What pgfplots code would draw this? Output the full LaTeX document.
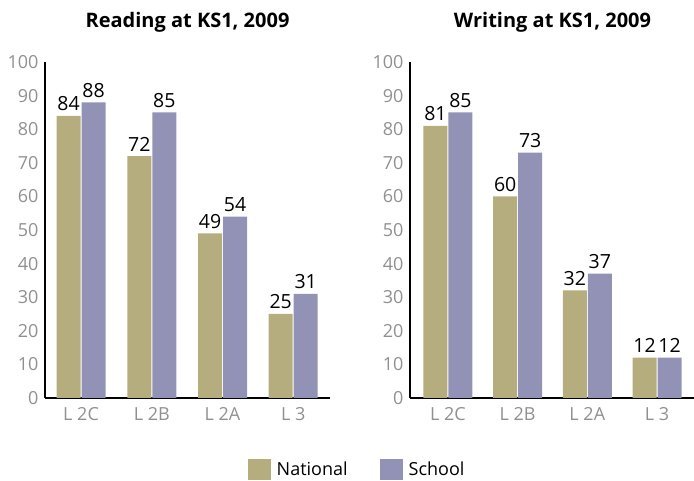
\documentclass[border=0pt]{standalone}
\usepackage{fontspec}
\setmainfont{Open Sans}
\usepackage{pgfplots}
\pgfplotsset{compat=1.18}
\definecolor{natc}{HTML}{B5AD7D}
\definecolor{schc}{HTML}{9292B6}
\definecolor{tickc}{HTML}{909090}
\pgfplotsset{
  mybar/.style={
    scale only axis, width=285pt, height=336pt,
    ybar=1pt, bar width=24pt,
    ymin=0, ymax=100,
    ytick={0,10,...,100},
    xtick={0,1,2,3},
    xticklabels={L 2C, L 2B, L 2A, L 3},
    axis x line*=bottom, axis y line*=left,
    axis line style={black, line width=1.3pt, -},
    major tick length=0pt,
    tick label style={font=\fontsize{18}{20}\selectfont, text=tickc},
    /pgf/number format/assume math mode=true,
    yticklabel style={xshift=-3pt},
    xticklabel style={yshift=-6pt},
    nodes near coords,
    every node near coord/.append style={font=\fontsize{19.5}{21}\selectfont, text=black, yshift=1.5pt},
    title style={font=\bfseries\fontsize{20}{24}\selectfont, yshift=20pt},
    clip=false,
  }
}
\begin{document}
\begin{tikzpicture}[x=1pt,y=1pt]
\path[use as bounding box] (0,0) rectangle (694,481);
\begin{axis}[mybar, at={(45pt,83pt)}, anchor=south west,
  xmin=-0.51, xmax=3.52, title={Reading at KS1, 2009},
  legend style={at={(1.095,-0.214)}, anchor=center, legend columns=2, draw=none,
    font=\fontsize{18}{20}\selectfont,
    /tikz/every odd column/.append style={column sep=4pt},
    /tikz/every even column/.append style={column sep=30pt}},
  legend image code/.code={\fill[#1] (0pt,-10.5pt) rectangle (23pt,10.5pt);}]
\addplot[fill=natc, draw=none] coordinates {(0,84) (1,72) (2,49) (3,25)};
\addplot[fill=schc, draw=none] coordinates {(0,88) (1,85) (2,54) (3,31)};
\legend{National, School}
\end{axis}
\begin{axis}[mybar, at={(410pt,83pt)}, anchor=south west,
  xmin=-0.545, xmax=3.545, title={Writing at KS1, 2009}]
\addplot[fill=natc, draw=none] coordinates {(0,81) (1,60) (2,32) (3,12)};
\addplot[fill=schc, draw=none] coordinates {(0,85) (1,73) (2,37) (3,12)};
\end{axis}
\end{tikzpicture}
\end{document}
